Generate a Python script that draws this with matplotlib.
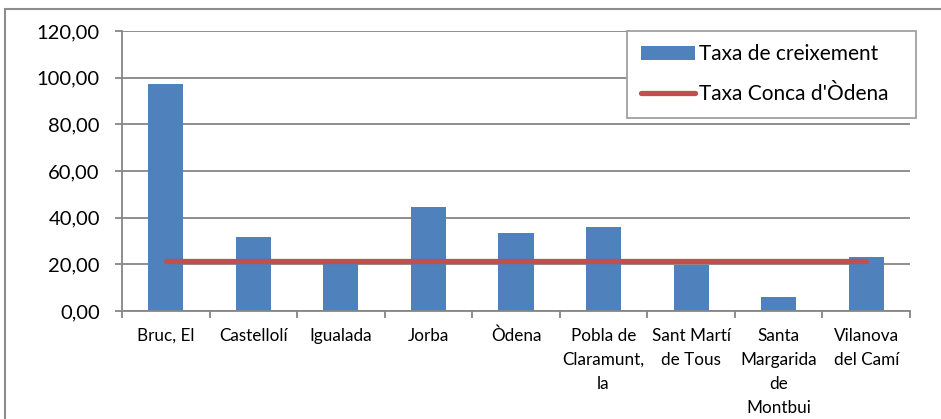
import matplotlib.pyplot as plt
from matplotlib.patches import Rectangle
import numpy as np

plt.rcParams['font.family'] = ['Lato', 'DejaVu Sans']

municipis = ["Bruc, El", "Castellolí", "Igualada", "Jorba", "Òdena",
             "Pobla de\nClaramunt,\nla", "Sant Martí\nde Tous",
             "Santa\nMargarida\nde\nMontbui", "Vilanova\ndel Camí"]
taxa_creixement = [97.3, 31.7, 20.3, 44.6, 33.4, 36.0, 19.7, 6.1, 23.3]
taxa_conca = 21.4

blue = '#4F81BD'
red = '#C0504D'
grey = '#868686'

fig = plt.figure(figsize=(9.41, 4.19), dpi=100)
ax = fig.add_axes([122/941, 1 - 311/419, (910 - 122)/941, (311 - 31)/419])

x = np.arange(len(municipis))
barres = ax.bar(x, taxa_creixement, width=0.4, color=blue, zorder=3, label='Taxa de creixement')
linia, = ax.plot([x[0], x[-1]], [taxa_conca, taxa_conca], color=red, lw=3.8,
                 solid_capstyle='round', zorder=4, label="Taxa Conca d'Òdena")

ax.set_xlim(-0.5, len(municipis) - 0.5)
ax.set_ylim(0, 120)
ax.set_yticks(np.arange(0, 121, 20))
ax.set_yticklabels(['%d,00' % v for v in range(0, 121, 20)])
ax.set_xticks(x)
ax.set_xticklabels(municipis, fontsize=12.3, linespacing=1.62, va='top')
ax.set_xticks(np.arange(-0.5, len(municipis)), minor=True)
ax.tick_params(axis='x', which='major', length=0, pad=12)
ax.tick_params(axis='x', which='minor', length=5, color=grey, width=1.3)
ax.tick_params(axis='y', length=5, color=grey, width=1.3, pad=11, labelsize=14.5)

ax.grid(axis='y', color=grey, lw=1.3, zorder=0)
for s in ['top', 'right']:
    ax.spines[s].set_visible(False)
for s in ['left', 'bottom']:
    ax.spines[s].set_color(grey)
    ax.spines[s].set_linewidth(1.3)
    ax.spines[s].set_zorder(5)

leg = ax.legend([barres, linia], ['Taxa de creixement', "Taxa Conca d'Òdena"],
                loc='upper left', bbox_to_anchor=(627/941, 1 - 35/419, (916 - 627)/941, 0.01),
                bbox_transform=fig.transFigure, mode='expand', borderaxespad=0, fontsize=15,
                fancybox=False, framealpha=1, edgecolor='#A0A0A0', handlelength=2.6,
                handleheight=0.7, labelspacing=0.95, borderpad=0.65, handletextpad=0.2)
leg.get_frame().set_linewidth(1.3)
leg.set_zorder(10)

fig.add_artist(Rectangle((5/941, -0.1), 1.0, 1 - 9/419 + 0.1, transform=fig.transFigure,
                         fill=False, edgecolor='#8C8C8C', lw=1.5))

fig.savefig('out.png', dpi=100)
